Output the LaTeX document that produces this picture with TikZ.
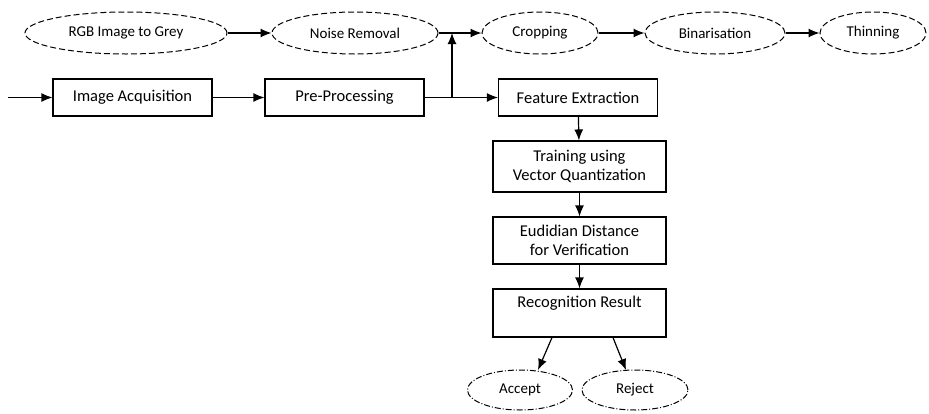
\documentclass[tikz,border=0pt]{standalone}
\usepackage{fontspec}
\setmainfont{Carlito}
\usetikzlibrary{shapes.geometric,arrows.meta}
\begin{document}
\begin{tikzpicture}[x=1pt,y=-1pt,
  arr/.style={line width=1.2pt,-{Latex[length=11pt,width=9pt]}},
  box/.style={draw,line width=1.1pt,rectangle,minimum width=159pt,inner sep=2pt,font=\fontsize{16.5}{19}\selectfont,align=center},
  dell/.style={draw,line width=1pt,dashed,dash pattern=on 6pt off 3pt,ellipse,inner sep=0pt,font=\fontsize{15}{18}\selectfont},
  dotell/.style={draw,line width=1pt,dash pattern=on 6pt off 2pt on 1pt off 2pt,ellipse,inner sep=0pt,font=\fontsize{15}{18}\selectfont}]
\useasboundingbox (0,0) rectangle (929,413);
% top ellipses
\node[dell,minimum width=202pt,minimum height=42pt] (rgb) at (126,33) {RGB Image to Grey};
\node[dell,minimum width=166pt,minimum height=42pt] (noise) at (355,33) {Noise Removal};
\node[dell,minimum width=116pt,minimum height=42pt] (crop) at (540,33) {Cropping};
\node[dell,minimum width=140pt,minimum height=42pt] (bin) at (715,33) {Binarisation};
\node[dell,minimum width=106pt,minimum height=42pt] (thin) at (873,33) {Thinning};
% main row
\coordinate (start) at (8,97.5);
\node[box,minimum height=37pt] (acq) at (132.5,97.5) {Image Acquisition};
\node[box,minimum height=37pt] (pre) at (344.5,97.5) {Pre-Processing};
\node[box,minimum height=37pt] (feat) at (578,97.5) {Feature Extraction};
\coordinate (j) at (452,97.5);
% vertical chain
\node[box,minimum width=173pt,minimum height=51pt] (train) at (579.5,166.5) {Training using\\Vector Quantization};
\node[box,minimum width=173pt,minimum height=47pt] (euc) at (579.5,240.5) {Eudidian Distance\\for Verification};
\node[box,minimum width=173pt,minimum height=48pt] (rec) at (579.5,313) {};
\node[font=\fontsize{16.5}{19}\selectfont] (rectext) at (579.5,303) {Recognition Result};
\node[dotell,minimum width=105pt,minimum height=40pt] (acc) at (520,390) {Accept};
\node[dotell,minimum width=106pt,minimum height=40pt] (rej) at (635,390) {Reject};
% connectors
\draw[arr] (rgb) -- (noise);
\draw[arr] (noise) -- (crop);
\draw[arr] (crop) -- (bin);
\draw[arr] (bin) -- (thin);
\draw[arr] (start) -- (acq);
\draw[arr] (acq) -- (pre);
\draw[arr] (pre) -- (feat);
\draw[arr] (j) -- (j |- noise.east);
\draw[arr] (feat) -- (train);
\draw[arr] (train) -- (euc);
\draw[arr] (euc) -- (rec);
\draw[arr] (rec.south -| 552,0) -- (538,370);
\draw[arr] (rec.south -| 613,0) -- (626,370);
\end{tikzpicture}
\end{document}
